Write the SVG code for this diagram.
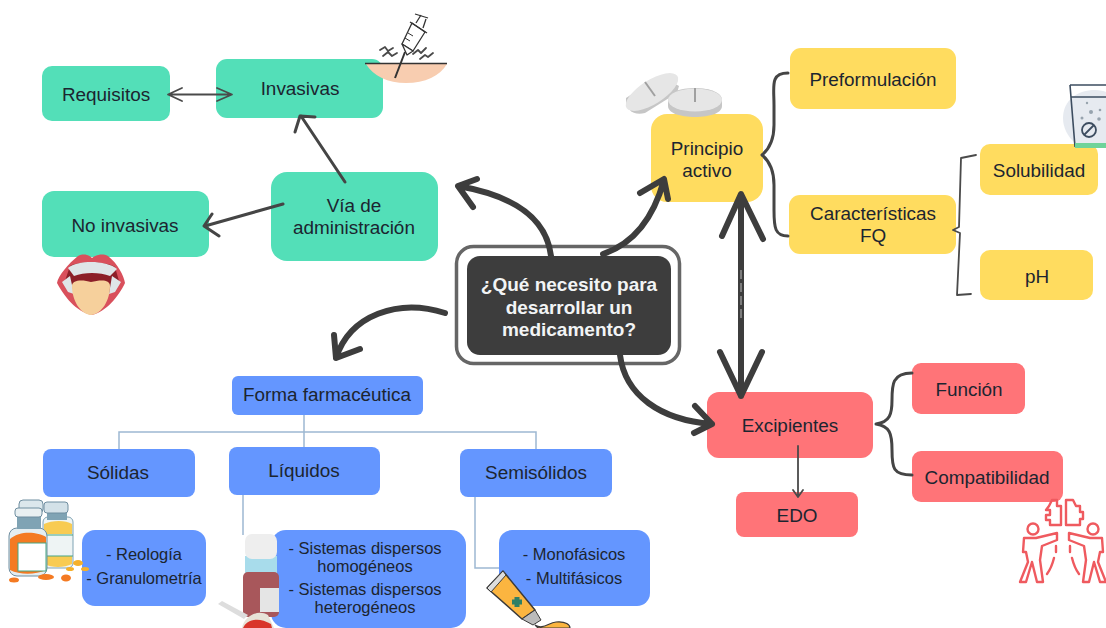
<svg xmlns="http://www.w3.org/2000/svg" width="1106" height="628" viewBox="0 0 1106 628">
<style>
text{font-family:"Liberation Sans",Arial,sans-serif;font-size:18.900px;text-anchor:middle;fill:#1c2530}
.g{fill:#53dfb8}.y{fill:#ffdc5f}.r{fill:#ff7478}.b{fill:#6496ff}
text.small{font-size:16.500px}
text.q{font-size:19px;font-weight:700;fill:#f2f4f5}
.thick{fill:none;stroke:#3d3d3d;stroke-width:6;stroke-linecap:round;stroke-linejoin:round}
.mid{fill:none;stroke:#454545;stroke-width:3;stroke-linecap:round;stroke-linejoin:round}
.thin{fill:none;stroke:#4a4a4a;stroke-width:1.800;stroke-linecap:round;stroke-linejoin:round}
.tree{fill:none;stroke:#9db8d2;stroke-width:1.500}
.ico{fill:none;stroke:#ef5a5f;stroke-width:2.400;stroke-linejoin:round;stroke-linecap:round}
.ink{fill:#fff;stroke:#333;stroke-width:1.300;stroke-linejoin:round}
</style>
<rect width="1106" height="628" fill="#fff"/>

<g id="invasivas"><rect class="g" x="216" y="59" width="167" height="59" rx="11"/><text x="300" y="95">Invasivas</text>
<!-- syringe entering the skin -->
<path d="M366 64H447C440 76 425 83 406 83C388 83 373 76 366 64Z" fill="#f8cdb0"/>
<path d="M365 63.500H447" stroke="#333" stroke-width="1.500"/>
<path d="M405 52L395 78" stroke="#333" stroke-width="2"/>
<path class="ink" d="M412 23L425 32L413 51L402 44Z"/>
<path class="ink" d="M410 22L427 33M402 44L413 51L407 55Z"/>
<path class="ink" d="M416 23L421 15M423 28L426 19"/>
<path class="ink" d="M415 14L428 18"/>
<path d="M408 33L413 36M405 38L410 41" stroke="#333" stroke-width="1"/>
<path class="thin" d="M380 50L385 47L388 51L393 48M383 56L388 52L392 56L397 53M413 54L418 50L421 53L426 48M420 59L425 55L428 57L433 53" stroke="#444" stroke-width="1.200"/>
</g>
<g id="requisitos"><rect class="g" x="42" y="66" width="128" height="55" rx="10"/><text x="106" y="101">Requisitos</text></g>
<g id="via"><rect class="g" x="271" y="172" width="167" height="89" rx="16"/><text x="354" y="212">Vía de</text><text x="354" y="234">administración</text></g>
<g id="no-invasivas"><rect class="g" x="42" y="191" width="167" height="66" rx="12"/><text x="125" y="232">No invasivas</text>
<!-- open mouth with tongue -->
<path d="M78 256C84 253 89 255 92 258C96 255 102 253 108 256C118 264 124 276 125 283C119 296 106 312 92 315C76 312 64 296 57 283C58 276 68 264 78 256Z" fill="#d9505c"/>
<path d="M70 266C80 261 104 261 115 267L119 281L104 300H80L65 281Z" fill="#8c1f28"/>
<path d="M68 268C78 260 106 260 117 269L110 276C100 272 84 272 74 276Z" fill="#dfe5e8"/>
<path d="M62 282L70 276L74 294L68 292ZM121 282L112 276L109 294L115 292Z" fill="#dfe5e8"/>
<path d="M72 286C72 279 84 280 91 282C100 280 110 279 110 286C110 300 102 314 91 315C80 314 72 300 72 286Z" fill="#f6d09c"/>
</g>

<g id="pregunta"><rect x="456.500" y="246.500" width="223" height="117" rx="17" fill="#fff" stroke="#666" stroke-width="3.500"/>
<rect x="467" y="256" width="204" height="99" rx="13" fill="#3d3d3d"/>
<text class="q" x="569" y="291">¿Qué necesito para</text><text class="q" x="569" y="314">desarrollar un</text><text class="q" x="569" y="336">medicamento?</text></g>

<g id="principio"><rect class="y" x="651" y="114" width="112" height="88" rx="16"/><text x="707" y="155">Principio</text><text x="707" y="177">activo</text>
<!-- two tablets -->
<path d="M626 98L660 76L679 86L677 93L645 113C634 116 625 110 626 98Z" fill="#c6c6c6"/>
<ellipse cx="652" cy="92" rx="30" ry="12" transform="rotate(-32 652 92)" fill="#e6e6e6"/>
<path d="M645 82L655 96" stroke="#a0a0a0" stroke-width="2"/>
<path d="M668 100C668 92 680 88 695 88C711 88 722 93 722 100V106C722 113 710 117 695 117C680 117 668 113 668 106Z" fill="#c6c6c6"/>
<ellipse cx="695" cy="100" rx="27" ry="11.500" fill="#e6e6e6"/>
<path d="M695 88V102" stroke="#a0a0a0" stroke-width="2"/>
</g>
<g id="preformulacion"><rect class="y" x="790" y="48" width="166" height="61" rx="11"/><text x="873" y="86">Preformulación</text></g>
<g id="caracteristicas"><rect class="y" x="789" y="195" width="167" height="59" rx="11"/><text x="873" y="220">Características</text><text x="873" y="242">FQ</text></g>
<g id="solubilidad">
<rect class="y" x="980" y="144" width="118" height="51" rx="10"/><text x="1039" y="177">Solubilidad</text>
<!-- glass with dissolving tablet -->
<path d="M1063 118C1063 100 1078 90 1095 90C1100 90 1104 91 1106 92V143H1075C1068 137 1063 128 1063 118Z" fill="#e6eaf0"/>
<path d="M1070 85H1106M1070 85L1075 147M1071 97H1106" fill="none" stroke="#3d4d60" stroke-width="1.600"/>
<path d="M1075 143H1106V148H1075Z" fill="#6fd39a"/>
<circle cx="1089" cy="130" r="7" fill="none" stroke="#3d4d60" stroke-width="1.800"/><path d="M1084 135L1094 125" stroke="#3d4d60" stroke-width="1.800"/>
<g fill="#97a3ae"><circle cx="1091" cy="112" r="2"/><circle cx="1082" cy="118" r="1.500"/><circle cx="1099" cy="119" r="1.800"/><circle cx="1100" cy="110" r="1.300"/><circle cx="1087" cy="103" r="1.200"/></g>
</g>
<g id="ph"><rect class="y" x="980" y="250" width="113" height="50" rx="10"/><text x="1037" y="283">pH</text></g>

<g id="excipientes"><rect class="r" x="707" y="392" width="166" height="66" rx="12"/><text x="790" y="432">Excipientes</text></g>
<g id="edo"><rect class="r" x="736" y="492" width="122" height="45" rx="8"/><text x="797" y="522">EDO</text></g>
<g id="funcion"><rect class="r" x="912" y="363" width="113" height="51" rx="9"/><text x="969" y="396">Función</text></g>
<g id="compatibilidad"><rect class="r" x="912" y="451" width="151" height="51" rx="9"/><text x="987" y="484">Compatibilidad</text>
<!-- two figures holding puzzle pieces -->
<path class="ico" d="M1049 506L1052 500H1057V506H1061V525H1050V520H1046V515H1050V510H1046ZM1066 506V500H1073L1076 506H1080V512H1083V519H1080V525H1066Z"/>
<g id="figura"><circle class="ico" cx="1033" cy="529" r="5.500"/>
<path class="ico" d="M1024 538H1036L1057 533V540L1042 546L1040 560L1043 582H1037L1032 562L1026 582H1020L1028 562L1026 552H1023ZM1056 546V552M1054 558C1052 566 1050 570 1047 574"/></g>
<g transform="matrix(-1 0 0 1 2126 0)"><circle class="ico" cx="1033" cy="529" r="5.500"/>
<path class="ico" d="M1024 538H1036L1057 533V540L1042 546L1040 560L1043 582H1037L1032 562L1026 582H1020L1028 562L1026 552H1023ZM1056 546V552M1054 558C1052 566 1050 570 1047 574"/></g>
</g>

<g id="forma"><rect class="b" x="232" y="376" width="191" height="39" rx="6"/><text x="327" y="401">Forma farmacéutica</text></g>
<g id="solidas"><rect class="b" x="43" y="449" width="152" height="48" rx="8"/><text x="118" y="479">Sólidas</text></g>
<g id="liquidos"><rect class="b" x="229" y="447" width="151" height="48" rx="8"/><text x="304" y="477">Líquidos</text></g>
<g id="semisolidos"><rect class="b" x="460" y="449" width="152" height="48" rx="8"/><text x="536" y="479">Semisólidos</text></g>

<g id="reologia"><rect class="b" x="82" y="530" width="124" height="76" rx="13"/><text class="small" x="144" y="560">- Reología</text><text class="small" x="144" y="584">- Granulometría</text>
<!-- pill bottles -->
<rect x="19" y="500" width="24" height="13" rx="4" fill="#dbe7ec" stroke="#6f8ea0"/>
<rect x="43" y="517" width="30" height="51" rx="5" fill="#eef4f4" stroke="#7fa3b4"/>
<path d="M44 524C52 520 66 520 72 524V534H44ZM44 556H72V564C64 568 52 568 44 564Z" fill="#f8cb52"/>
<path d="M45 535H73M45 556H73" stroke="#47a582"/>
<rect x="47" y="510" width="20" height="10" fill="#7fa3b4"/>
<rect x="44" y="502" width="24" height="11" rx="3" fill="#d3e1e8" stroke="#6f8ea0"/>
<rect x="9" y="528" width="38" height="48" rx="8" fill="#e4edf0" stroke="#6f8ea0"/>
<path d="M10 539C20 530 38 532 46 537V570C35 575 20 575 10 570Z" fill="#f47a22"/>
<rect x="18" y="543" width="28" height="28" fill="#fff" stroke="#47a582"/>
<rect x="17" y="516" width="24" height="13" fill="#7fa3b4"/>
<rect x="15" y="508" width="27" height="9" rx="3" fill="#e9f0f2" stroke="#6f8ea0"/>
<g fill="#f47a22"><ellipse cx="14" cy="580" rx="5" ry="2.500"/><ellipse cx="46" cy="577" rx="8" ry="3"/><ellipse cx="66" cy="578" rx="5" ry="3.500"/></g>
<g fill="#f5b02a"><ellipse cx="78" cy="563" rx="5" ry="3"/><ellipse cx="70" cy="569" rx="4" ry="2"/><ellipse cx="85" cy="569" rx="4" ry="2"/></g>
</g>

<g id="sistemas">
<rect class="b" x="271" y="530" width="195" height="98" rx="15"/>
<text class="small" x="365" y="554">- Sistemas dispersos</text><text class="small" x="365" y="572">homogéneos</text><text class="small" x="365" y="595">- Sistemas dispersos</text><text class="small" x="365" y="613">heterogéneos</text>
<!-- syrup bottles and dosing spoon -->
<path d="M245 556H277V580H245Z" fill="#a8dceb"/>
<rect x="245" y="534" width="32" height="25" rx="7" fill="#eeeeee"/>
<rect x="243" y="572" width="36" height="45" rx="5" fill="#a8575b"/>
<rect x="260" y="588" width="19" height="24" fill="#e5e5e5"/>
<path d="M218 604L222 601L248 615L244 619Z" fill="#ddd"/>
<path d="M242 628C244 616 258 609 268 615L274 628Z" fill="#e7e3d8"/><path d="M243 628C246 620 258 616 271 624L272 628Z" fill="#d9352b"/>
</g>

<g id="monofasicos"><rect class="b" x="499" y="530" width="151" height="76" rx="13"/><text class="small" x="574" y="560">- Monofásicos</text><text class="small" x="574" y="584">- Multifásicos</text></g>

<g id="connectors">
<!-- tree lines of the dosage-form branch -->
<path class="tree" d="M119 449V432H536V449M304 432V415M304 432V447M243 495V535M475 497V568H499"/>
<!-- teal branch -->
<path class="thin" d="M170 94.500H230M182 88L168 94.500L182 101M217 88L232 94.500L217 101" stroke-width="2"/>
<path class="mid" d="M345 182L301 116M295 132L300 116L315 117"/>
<path class="mid" d="M283 204L205 226M212 214L204 226L219 236"/>
<!-- main branches from the central question -->
<path class="thick" d="M551 256C546 215 510 195 458 186M477 179L458 186L473 207"/>
<path class="thick" d="M603 254C636 243 654 216 664 180M640 193L664 179L668 199"/>
<path class="thick" d="M445 313C398 298 350 315 336 358M334 335L336 358L360 349"/>
<path class="thick" d="M620 355C625 395 660 420 712 424M695 406L712 424L694 433"/>
<path class="thick" d="M741 196V396M722 236L741 194L763 239M720 352L741 396L762 352"/>
<path d="M741 270V320" stroke="#bdbdbd" stroke-width="1" stroke-dasharray="9 4"/>
<!-- braces -->
<path class="mid" d="M788 73C770 73 774 86 774 105V125C774 142 768 150 762 155C768 160 774 168 774 185V210C774 228 775 236 788 236"/>
<path class="thin" d="M976 155L961 158L959 227L953 230L960 233L957 295L971 294"/>
<path class="mid" d="M912 373C892 373 892 385 892 400C892 414 890 422 876 424C890 426 892 434 892 450C892 468 893 475 912 475"/>
<path class="thin" d="M798 446V497M793 490L798 497L803 490"/>
</g>

<!-- ointment tube drawn over the multiphase box -->
<g id="pomada">
<path d="M487 588L503 571L535 610L522 619Z" fill="#fbb540" stroke="#3a3a3a" stroke-width="1.500" stroke-linejoin="round"/>
<path d="M487 588L503 571L506 575L491 592Z" fill="#ddd" stroke="#3a3a3a"/>
<path d="M512 602H522M517 597V607" stroke="#2f7f66" stroke-width="5"/>
<path d="M522 619L535 610L541 620L533 625Z" fill="#bbb" stroke="#3a3a3a"/>
<path d="M535 625C543 630 548 623 556 622C566 621 570 625 570 628H538Z" fill="#fbb540" stroke="#3a3a3a" stroke-width="1.200"/>
</g>
</svg>
